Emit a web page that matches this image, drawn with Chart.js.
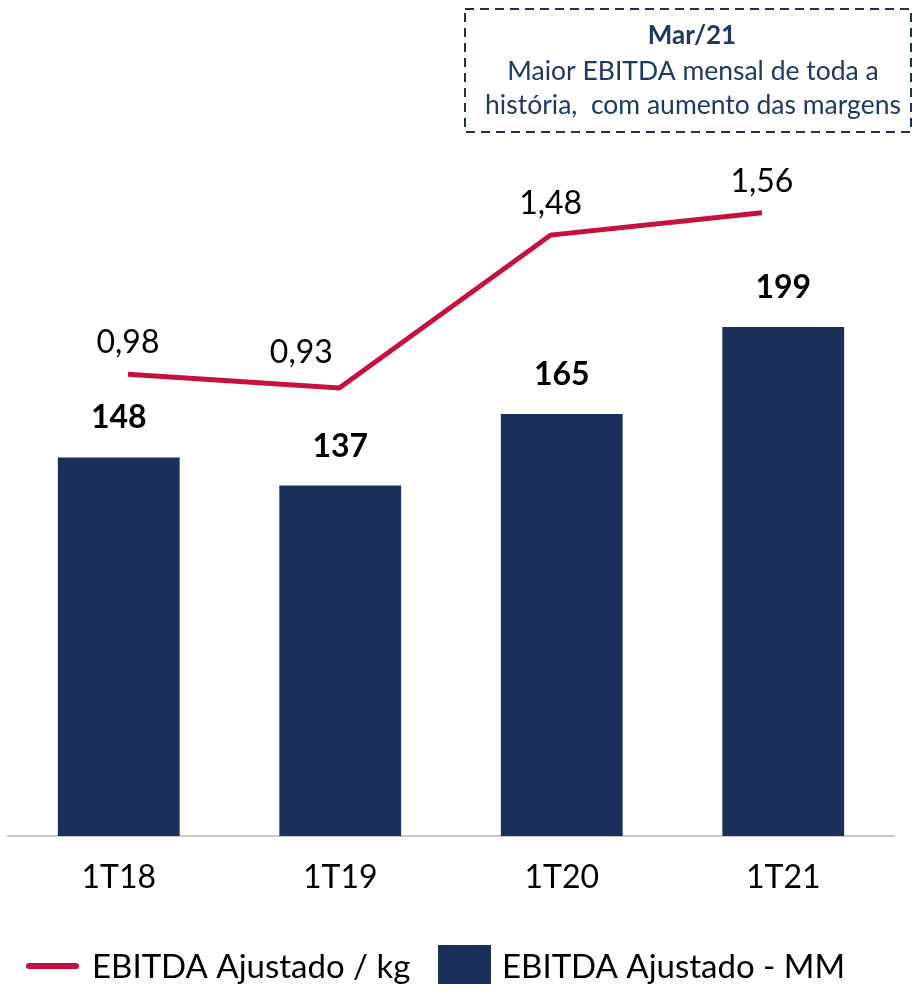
<!DOCTYPE html>
<html><head><meta charset="utf-8">
<script src="https://cdn.jsdelivr.net/npm/chart.js@4/dist/chart.umd.min.js"></script>
<style>html,body{margin:0;padding:0;background:#fff;}#wrap{width:917px;height:999px;}</style>
</head><body><div id="wrap"><canvas id="c" width="917" height="999"></canvas></div>
<script>
const categories = ["1T18", "1T19", "1T20", "1T21"];
const ebitdaMM = [148, 137, 165, 199];
const ebitdaKg = [0.98, 0.93, 1.48, 1.56];
const seriesNames = ["EBITDA Ajustado / kg", "EBITDA Ajustado - MM"];
const noteTitle = "Mar/21";
const noteLines = ["Maior EBITDA mensal de toda a", "história,  com aumento das margens"];

const NAVY = "#1b2f5b";
const RED = "#c8103e";
const FONT = "Lato, 'Open Sans', sans-serif";
const lineLabelDx = [0, -38, 0, 0];
const lineLabelDy = [-21, -25, -21, -21];

const fmt = v => v.toFixed(2).replace(".", ",");

const labelsPlugin = {
  id: "labels",
  afterDatasetsDraw(chart) {
    const ctx = chart.ctx;
    ctx.save();
    ctx.textAlign = "center";
    ctx.textBaseline = "alphabetic";
    ctx.fillStyle = "#000";
    const barMeta = chart.getDatasetMeta(1);
    ctx.font = "bold 32px " + FONT;
    barMeta.data.forEach((el, i) => ctx.fillText(String(ebitdaMM[i]), el.x, el.y - 29));
    const lineMeta = chart.getDatasetMeta(0);
    ctx.font = "32px " + FONT;
    lineMeta.data.forEach((el, i) => ctx.fillText(fmt(ebitdaKg[i]), el.x + lineLabelDx[i], el.y + lineLabelDy[i]));
    ctx.restore();
  },
  afterDraw(chart) {
    const ctx = chart.ctx;
    ctx.save();
    // legend
    const ly = 966;
    ctx.strokeStyle = RED; ctx.lineWidth = 6; ctx.lineCap = "round";
    ctx.beginPath(); ctx.moveTo(29, ly); ctx.lineTo(76, ly); ctx.stroke();
    ctx.font = "33px " + FONT; ctx.fillStyle = "#000"; ctx.textBaseline = "alphabetic"; ctx.textAlign = "left";
    ctx.fillText(seriesNames[0], 92, 978);
    ctx.fillStyle = NAVY; ctx.fillRect(438, 945, 53, 39);
    ctx.fillStyle = "#000";
    ctx.fillText(seriesNames[1], 502, 978);
    // note box
    ctx.setLineDash([9, 6]); ctx.lineWidth = 2; ctx.strokeStyle = NAVY; ctx.lineCap = "butt";
    ctx.strokeRect(465, 9, 446, 123);
    ctx.setLineDash([]);
    ctx.fillStyle = "#1f3864"; ctx.textAlign = "center";
    ctx.font = "bold 26px " + FONT; ctx.fillText(noteTitle, 692, 44);
    ctx.font = "26.5px " + FONT;
    ctx.fillText(noteLines[0], 693, 80);
    ctx.fillText(noteLines[1], 693, 114);
    ctx.restore();
  }
};

new Chart(document.getElementById("c"), {
  type: "bar",
  data: {
    labels: categories,
    datasets: [
      { type: "line", label: seriesNames[0], data: ebitdaKg.map((v, i) => ({ x: i, y: v })),
        xAxisID: "x2", yAxisID: "y2", borderColor: RED, borderWidth: 5, pointRadius: 0,
        tension: 0, fill: false, order: 0 },
      { type: "bar", label: seriesNames[1], data: ebitdaMM, xAxisID: "x", yAxisID: "y",
        backgroundColor: NAVY, barPercentage: 0.55, categoryPercentage: 1, grouped: false, order: 1 }
    ]
  },
  options: {
    responsive: false, animation: false, devicePixelRatio: 1,
    layout: { padding: { left: 8, right: 23, top: 140, bottom: 103 } },
    plugins: { legend: { display: false }, tooltip: { enabled: false } },
    scales: {
      x: { type: "category", offset: true, grid: { display: false, drawTicks: false },
        border: { display: true, color: "#c8c8c8", width: 2 },
        ticks: { color: "#000", font: { family: FONT, size: 32 }, padding: 22 },
        afterFit(s) { s.height = 60; } },
      x2: { type: "linear", display: false, offset: false, min: -0.568, max: 3.625 },
      y: { display: false, min: 0, max: 272.1 },
      y2: { display: false, min: -0.681, max: 1.822 }
    }
  },
  plugins: [labelsPlugin]
});
</script></body></html>
